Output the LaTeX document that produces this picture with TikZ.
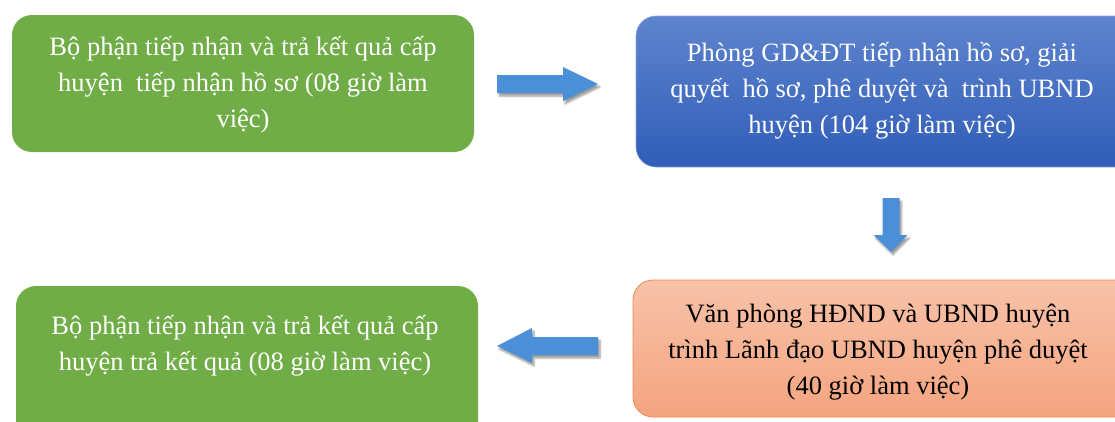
\documentclass[tikz,border=0pt]{standalone}
\usepackage{fontspec}
\setmainfont{Liberation Serif}
\usetikzlibrary{shadows.blur}
\definecolor{boxgreen}{HTML}{70AD47}
\definecolor{bluetop}{HTML}{5F84CE}
\definecolor{bluebot}{HTML}{2F5DB8}
\definecolor{salmontop}{HTML}{F8C2A9}
\definecolor{salmonbot}{HTML}{F4A47F}
\definecolor{salmonline}{HTML}{EE8A4E}
\definecolor{arrowblue}{HTML}{4A8FD8}
\tikzset{
  boxshape/.style={rounded corners=20pt},
  boxtext/.style={align=center, font=\fontsize{26.5}{36}\selectfont, inner sep=0pt},
  blockarrow/.style={fill=arrowblue, draw=none, blur shadow={shadow xshift=2pt, shadow yshift=-3pt, shadow blur steps=6, shadow opacity=40}},
}
\begin{document}
\begin{tikzpicture}[x=1pt,y=-1pt]
\useasboundingbox (0,0) rectangle (1115,421);
\clip (0,0) rectangle (1115,421);
% boxes
\path[boxshape, fill=boxgreen] (12,15) rectangle (474,152);
\path[boxshape, top color=bluetop, bottom color=bluebot, draw=bluetop!70!white, line width=0.6pt] (636,16) rectangle (1136,167);
\path[boxshape, top color=salmontop, bottom color=salmonbot, draw=salmonline, line width=0.8pt] (633,280) rectangle (1136,417);
\path[boxshape, fill=boxgreen] (16,286) rectangle (478,450);
% texts
\node[boxtext, text=white] (n1) at (243,85) {Bộ phận tiếp nhận và trả kết quả cấp\\huyện\ \ tiếp nhận hồ sơ (08 giờ làm\\việc)};
\node[boxtext, text=white] (n2) at (882,90.5) {Phòng GD\&ĐT tiếp nhận hồ sơ, giải\\quyết\ \ hồ sơ, phê duyệt và\ \ trình UBND\\huyện (104 giờ làm việc)};
\node[boxtext, text=black] (n3) at (878,352) {Văn phòng HĐND và UBND huyện\\trình Lãnh đạo UBND huyện phê duyệt\\(40 giờ làm việc)};
\node[boxtext, text=white] (n4) at (245,346) {Bộ phận tiếp nhận và trả kết quả cấp\\huyện trả kết quả (08 giờ làm việc)};
% block arrows
\coordinate (a1) at (497,84);
\coordinate (a2) at (891,198);
\coordinate (a3) at (598,346);
\fill[blockarrow] (a1) ++(0,-9) -- ++(66,0) -- ++(0,-8) -- ++(35,17) -- ++(-35,17) -- ++(0,-8) -- ++(-66,0) -- cycle;
\fill[blockarrow] (a2) ++(-8.5,0) -- ++(17,0) -- ++(0,37) -- ++(8,0) -- ++(-16.5,17) -- ++(-17.5,-17) -- ++(9,0) -- cycle;
\fill[blockarrow] (a3) ++(0,-9) -- ++(-66,0) -- ++(0,-9) -- ++(-35,18) -- ++(35,17) -- ++(0,-8) -- ++(66,0) -- cycle;
\end{tikzpicture}
\end{document}
